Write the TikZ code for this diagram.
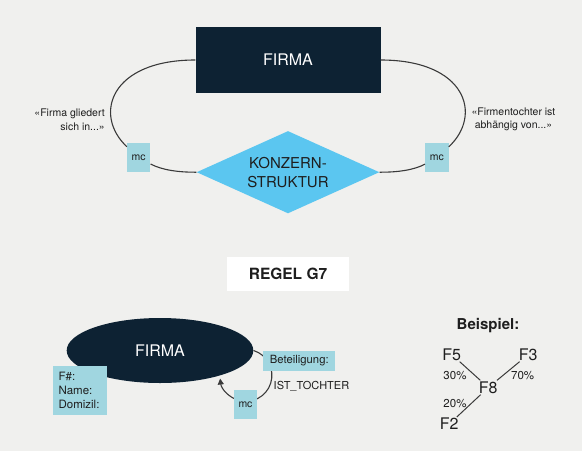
\documentclass[tikz,border=0pt]{standalone}
\usepackage{fontspec}
\setmainfont{TeX Gyre Heros}
\usetikzlibrary{shapes.geometric,arrows.meta}
\definecolor{bggray}{HTML}{F0F0EE}
\definecolor{navy}{HTML}{0D2233}
\definecolor{skyblue}{HTML}{5BC6F0}
\definecolor{mcteal}{HTML}{A0D6E0}
\definecolor{inkgray}{HTML}{1E1E1E}
\definecolor{linegray}{HTML}{3A3A3A}

\begin{document}
\begin{tikzpicture}[x=1pt,y=-1pt,
  every node/.style={text=inkgray},
  entity/.style={fill=navy,text=white,inner sep=0pt,font=\fontsize{16}{19}\selectfont},
  tealbox/.style={fill=mcteal,inner sep=0pt,font=\fontsize{10.5}{12}\selectfont},
  loopline/.style={draw=linegray,line width=1.1pt},
  treeline/.style={draw=linegray,line width=1pt},
  note/.style={inner sep=0pt,font=\fontsize{10.5}{13.7}\selectfont},
  fname/.style={inner sep=1pt,font=\fontsize{16}{19}\selectfont},
  pct/.style={inner sep=0pt,font=\fontsize{11.5}{13}\selectfont}]
  \fill[bggray] (0,0) rectangle (582,451);
  \useasboundingbox (0,0) rectangle (582,451);

  \node[entity,minimum width=185pt,minimum height=65.4pt] (firmaA) at (288,60) {FIRMA};
  \node[diamond,aspect=2.2,fill=skyblue,minimum width=182.7pt,minimum height=82.3pt,inner sep=0pt,
        align=center,font=\fontsize{15}{19}\selectfont] (konzern) at (288,172.2) {KONZERN-\\STRUKTUR};
  \node[tealbox,minimum width=23.3pt,minimum height=29pt] (mcL) at (138.7,157.8) {mc};
  \node[tealbox,minimum width=23.3pt,minimum height=29pt] (mcR) at (436.9,157.8) {mc};
  \draw[loopline] (firmaA.west) .. controls (110,60) and (93,115) .. (mcL);
  \draw[loopline] (mcL) .. controls (162,170) and (178,172.3) .. (konzern.west);
  \draw[loopline] (firmaA.east) .. controls (466,60) and (483,115) .. (mcR);
  \draw[loopline] (mcR) .. controls (414,170) and (398,172.3) .. (konzern.east);
  \node[note,align=right,anchor=east] (lblL) at (105,119.4) {«Firma gliedert\\sich in...»};
  \node[note,align=center] (lblR) at (513.5,119.4) {«Firmentochter ist\\abhängig von...»};

  \node[fill=white,minimum width=122pt,minimum height=34pt,
        font=\bfseries\fontsize{15.5}{18}\selectfont] (regel) at (288,273.7) {REGEL G7};

  \node[entity,ellipse,minimum width=186.6pt,minimum height=65pt] (firmaB) at (160,350.5) {FIRMA};
  \draw[loopline,-{Triangle[length=6pt,width=6pt]}] (firmaB.east) arc[start angle=-73,end angle=173,radius=26];
  \node[tealbox,minimum width=71.7pt,minimum height=20pt,font=\fontsize{11.3}{13}\selectfont] (beteil) at (299.3,360.7) {Beteiligung:};
  \node[tealbox,minimum width=23.3pt,minimum height=29pt] (mcB) at (245.5,404.5) {mc};
  \node[anchor=west,inner sep=0pt,font=\fontsize{11}{13}\selectfont] (isttochter) at (273.5,386.7) {IST\_TOCHTER};
  \node[tealbox,minimum width=53.8pt,minimum height=49.3pt,align=left,text width=42pt,
        font=\fontsize{11.5}{13.7}\selectfont] (attribs) at (79.6,390.3) {F\#:\\Name:\\Domizil:};

  \node[font=\bfseries\fontsize{15}{18}\selectfont] (beispiel) at (488,325.5) {Beispiel:};
  \node[fname] (f5) at (451.7,354.5) {F5};
  \node[fname] (f3) at (528.3,354.5) {F3};
  \node[fname] (f8) at (488.3,387.5) {F8};
  \node[fname] (f2) at (449.3,424) {F2};
  \draw[treeline] (f5) -- (f8);
  \draw[treeline] (f3) -- (f8);
  \draw[treeline] (f8) -- (f2);
  \node[pct] (p30) at (455,376) {30\%};
  \node[pct] (p70) at (522.7,376) {70\%};
  \node[pct] (p20) at (455,403.3) {20\%};
\end{tikzpicture}
\end{document}
